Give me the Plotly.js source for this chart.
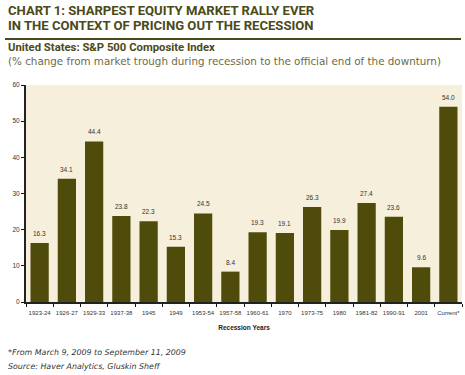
<!DOCTYPE html>
<html><head><meta charset="utf-8">
<script src="https://cdn.plot.ly/plotly-3.0.1.min.js"></script>
<style>html,body{margin:0;padding:0;background:#fff}#c{width:465px;height:375px}</style>
</head><body><div id="c"></div>
<script>
const categories = ["1923-24","1926-27","1929-33","1937-38","1945","1949","1953-54","1957-58","1960-61","1970","1973-75","1980","1981-82","1990-91","2001","Current*"];
const values = [16.3,34.1,44.4,23.8,22.3,15.3,24.5,8.4,19.3,19.1,26.3,19.9,27.4,23.6,9.6,54.0];

const L=26, R=3, T=85, B=73, W=465, H=375;
const pw=W-L-R, ph=H-T-B;
const px = X => (X-L)/pw;
const py = Y => (H-B-Y)/ph;
const olive="#4a4a1a";

const ann = (text,X,Y,size,opts={}) => Object.assign({text:text,xref:'paper',yref:'paper',x:px(X),y:py(Y),xanchor:'left',yanchor:'middle',showarrow:false,font:{family:'Roboto',size:size,color:olive}},opts);

const labelAnns = categories.map((c,i)=>({x:i,y:values[i],xref:'x',yref:'y',text:values[i].toFixed(1),showarrow:false,yanchor:'bottom',yshift:4,font:{family:'Liberation Sans',size:6.5,color:'#333'}}));

Plotly.newPlot('c',[{
  type:'bar',x:categories,y:values,
  marker:{color:'#4f4c0b'},
  hoverinfo:'none'
}],{
  width:W,height:H,margin:{l:L,r:R,t:T,b:B},
  paper_bgcolor:'#fff',plot_bgcolor:'#f6efdc',
  bargap:0.33,showlegend:false,
  xaxis:{type:'category',tickson:'boundaries',ticks:'outside',ticklen:3,tickcolor:'#111',tickangle:0,
    showline:true,linecolor:'#222',linewidth:2,ticklabelstandoff:4,
    tickfont:{family:'Liberation Sans',size:6,color:'#333'},
    title:{text:'<b>Recession Years</b>',font:{family:'Liberation Sans',size:6.5,color:'#222'},standoff:10}},
  yaxis:{range:[0,60],dtick:10,ticks:'outside',ticklen:3,tickcolor:'#111',
    showline:true,linecolor:'#222',linewidth:2,showgrid:false,zeroline:false,
    tickfont:{family:'Liberation Sans',size:6.5,color:'#333'}},
  shapes:[{type:'line',xref:'paper',yref:'paper',x0:px(5),x1:px(461),y0:py(39),y1:py(39),line:{color:'#4a4a1a',width:2}}],
  annotations:labelAnns.concat([
    ann('<b>CHART 1: SHARPEST EQUITY MARKET RALLY EVER</b>',6,10,13.1),
    ann('<b>IN THE CONTEXT OF PRICING OUT THE RECESSION</b>',6,25,13.1),
    ann('<b>United States: S&amp;P 500 Composite Index</b>',6,47,11.3),
    ann('(% change from market trough during recession to the official end of the downturn)',6,61,10.3,{font:{family:'DejaVu Sans',size:10.35,color:'#6b6b45'}}),
    ann('<i>*From March 9, 2009 to September 11, 2009</i>',6,352,8,{font:{family:'DejaVu Sans',size:7.9,color:'#333'}}),
    ann('<i>Source: Haver Analytics, Gluskin Sheff</i>',6,366,8,{font:{family:'DejaVu Sans',size:7.9,color:'#333'}})
  ])
},{staticPlot:true});
</script></body></html>
